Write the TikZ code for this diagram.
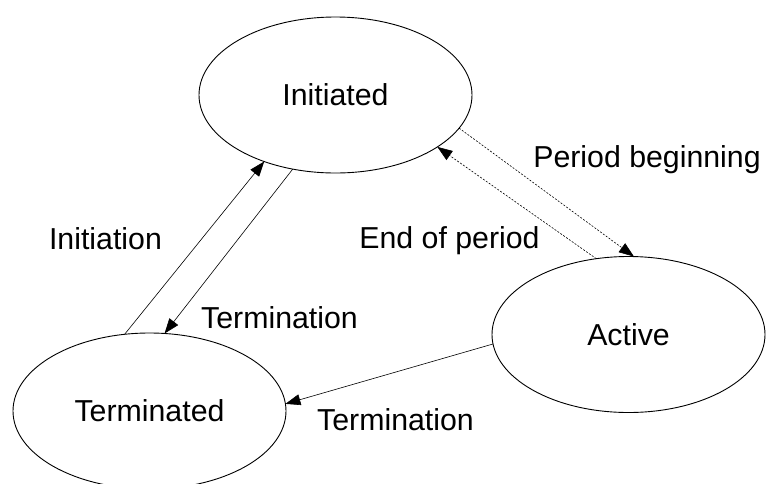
\documentclass[tikz,border=0pt]{standalone}
\usepackage{fontspec}
\setmainfont{Liberation Sans}
\usetikzlibrary{shapes.geometric,arrows.meta}
\begin{document}
\begin{tikzpicture}
[x=1pt,y=-1pt,
  statedecorate/.style={shape=ellipse,draw,line width=0.9pt,minimum width=273pt,
    minimum height=156pt,inner sep=0pt,outer sep=0pt,font=\fontsize{30.3}{36}\selectfont},%
  labeldecorate/.style={anchor=base,inner sep=0pt,font=\fontsize{30.3}{36}\selectfont},%
  arrowdecorate/.style={-{Triangle[length=15pt,width=11pt]},line width=0.6pt},%
  dasheddecorate/.style={arrowdecorate,dash pattern=on 2pt off 1.5pt}]
\useasboundingbox (0,0) rectangle (766,483);
%% states
\foreach \nodename/\x/\y/\statename in {
  init/335.5/95/Initiated, act/628.5/334.5/Active, term/149.5/411/Terminated} {
  \node (\nodename) at (\x,\y) [statedecorate] {\statename};
}
%% labels
\foreach \labelname/\x/\y/\labeltext in {
  lblinit/105.5/249/Initiation, lblterma/279.5/328/Termination,
  lblbegin/647/167/Period beginning, lblend/449.5/248/End of period,
  lbltermb/395.5/430/Termination} {
  \node (\labelname) at (\x,\y) [labeldecorate] {\labeltext};
}
%% transitions
\path
\foreach \startnode/\sa/\endnode/\ea in {
  term/108.1/init/223.2, init/240.8/term/79.2, act/184.9/term/3.3} {
  (\startnode.\sa) edge[arrowdecorate] (\endnode.\ea)
}
\foreach \startnode/\sa/\endnode/\ea in {
  init/-15.5/act/86.8, act/113.4/init/-27.3} {
  (\startnode.\sa) edge[dasheddecorate] (\endnode.\ea)
};
\end{tikzpicture}
\end{document}
